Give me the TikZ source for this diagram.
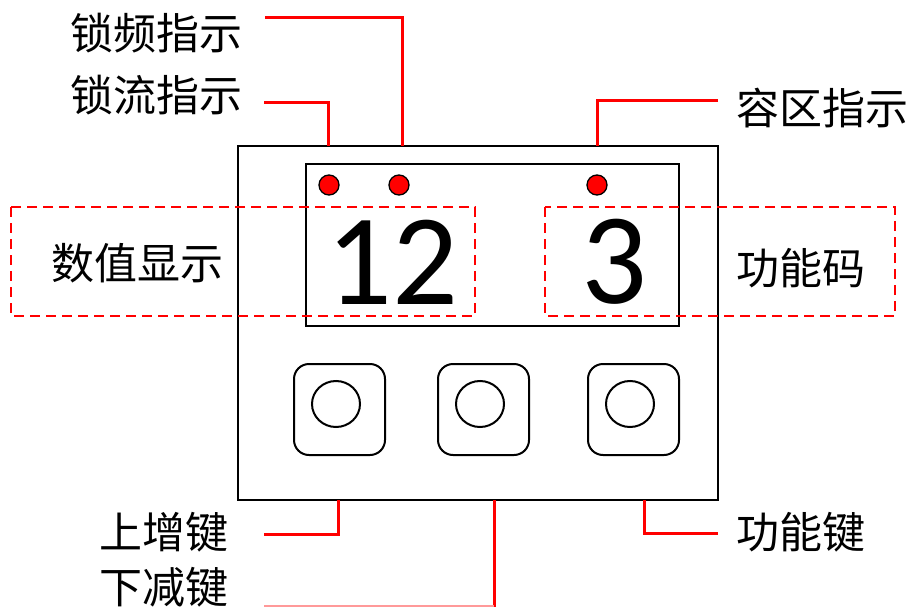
\documentclass[tikz,border=0pt]{standalone}
\usepackage{fontspec}
\setmainfont{Carlito}
\newfontfamily\cjk{Noto Sans CJK SC}
\begin{document}
\begin{tikzpicture}[x=1pt,y=-1pt,
  lbl/.style={inner sep=0pt,font=\cjk\fontsize{43}{50}\selectfont},
  digit/.style={inner sep=0pt,font=\fontsize{130}{150}\selectfont},
  conn/.style={draw=red,line width=3pt},
  frame/.style={draw=black,line width=2pt},
  dbox/.style={draw=red,line width=1.8pt,dash pattern=on 10pt off 6pt},
  led/.style={circle,fill=red,draw=black,line width=1.3pt,minimum size=20pt,inner sep=0pt},
  keybox/.style={draw=black,line width=2pt,rounded corners=15pt},
  keycap/.style={draw=black,line width=2pt}]
\useasboundingbox (0,0) rectangle (909,607);
% outer body and display
\draw[frame] (238,146) rectangle (718,500);
\draw[frame] (306,164) rectangle (679,326);
\coordinate (top1) at (328,146);
\coordinate (top2) at (402,146);
\coordinate (top3) at (597,146);
\coordinate (bot1) at (338,500);
\coordinate (bot2) at (494,500);
\coordinate (bot3) at (644,500);
% LEDs
\node[led] (l1) at (329,185) {};
\node[led] (l2) at (399,185) {};
\node[led] (l3) at (597,185) {};
% digits
\node[digit] (d12) at (392,262) {12};
\node[digit] (d3) at (614,262) {3};
% dashed boxes
\draw[dbox] (11,207) rectangle (475,316);
\draw[dbox] (545,207) rectangle (895,316);
% keys
\foreach \cx in {339,483,633}{
  \draw[keybox] (\cx-45,364) rectangle (\cx+46,455);
}
\draw[keycap] (336,404) ellipse (24 and 23);
\draw[keycap] (480,404) ellipse (24 and 23);
\draw[keycap] (630,404) ellipse (24 and 23);
% labels
\node[lbl] (suopin) at (156,33) {锁频指示};
\node[lbl] (suoliu) at (156,95) {锁流指示};
\node[lbl] (rongqu) at (822,108) {容区指示};
\node[lbl] (shuzhi) at (137,263) {数值显示};
\node[lbl] (gongma) at (801,268) {功能码};
\node[lbl] (shang) at (164,532) {上增键};
\node[lbl] (xia) at (164,587) {下减键};
\node[lbl] (gongjian) at (801,532) {功能键};
% connectors
\draw[conn] (265,18) -| (top2);
\draw[conn] (264,103) -| (top1);
\draw[conn] (718,101) -| (top3);
\draw[conn] (264,534) -| (bot1);
\draw[conn] (718,533) -| (bot3);
\draw[conn] (bot2) -- (494,607);
\draw[draw=red!40,line width=2pt] (264,606) -- (494,606);
\end{tikzpicture}
\end{document}
